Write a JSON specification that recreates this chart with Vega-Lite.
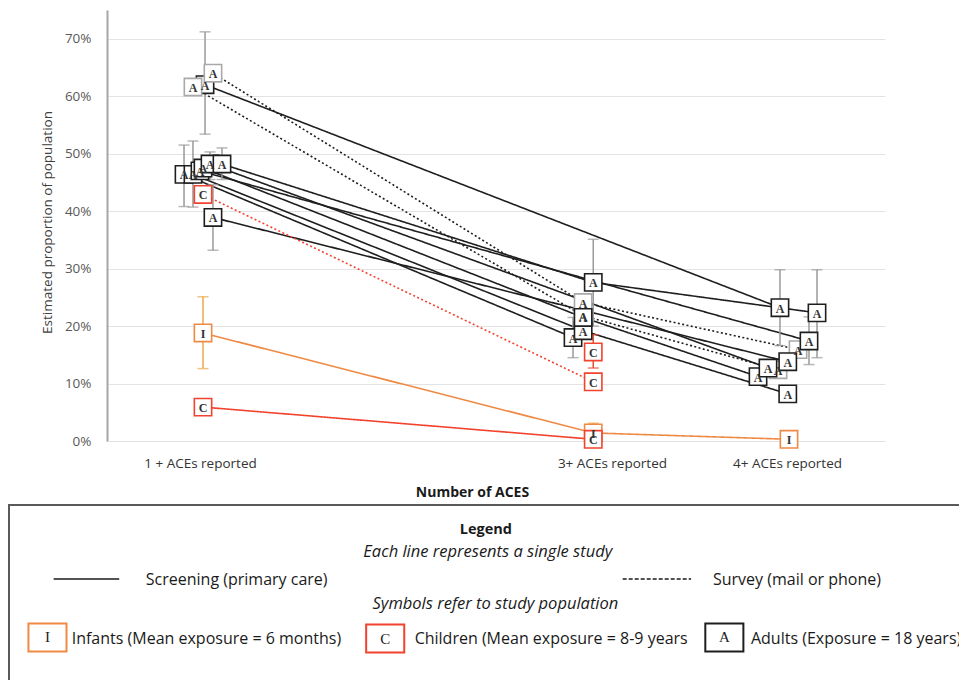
{
  "$schema": "https://vega.github.io/schema/vega-lite/v6.json",
  "width": 778,
  "height": 431,
  "autosize": {"type": "none"},
  "padding": {"left": 107, "top": 10, "right": 74, "bottom": 239},
  "background": "white",
  "config": {"view": {"stroke": null}, "font": "Open Sans"},
  "datasets": {
    "pts": [
      {"study": "s14", "pop": "Infants", "method": "Screening", "sym": "I", "aces": "1+", "pos": 12.34, "v": 0.188},
      {"study": "s14", "pop": "Infants", "method": "Screening", "sym": "I", "aces": "3+", "pos": 62.5, "v": 0.014},
      {"study": "s14", "pop": "Infants", "method": "Screening", "sym": "I", "aces": "4+", "pos": 87.66, "v": 0.003},
      {"study": "s1", "pop": "Adults", "method": "Screening", "sym": "A", "aces": "1+", "pos": 12.6, "v": 0.62},
      {"study": "s1", "pop": "Adults", "method": "Screening", "sym": "A", "aces": "4+", "pos": 86.5, "v": 0.232},
      {"study": "s3", "pop": "Adults", "method": "Survey", "sym": "A", "aces": "1+", "pos": 11.05, "v": 0.616},
      {"study": "s3", "pop": "Adults", "method": "Survey", "sym": "A", "aces": "3+", "pos": 61.2, "v": 0.218},
      {"study": "s3", "pop": "Adults", "method": "Survey", "sym": "A", "aces": "4+", "pos": 86.25, "v": 0.124},
      {"study": "s2", "pop": "Adults", "method": "Survey", "sym": "A", "aces": "1+", "pos": 13.62, "v": 0.64},
      {"study": "s2", "pop": "Adults", "method": "Survey", "sym": "A", "aces": "3+", "pos": 61.2, "v": 0.241},
      {"study": "s2", "pop": "Adults", "method": "Survey", "sym": "A", "aces": "4+", "pos": 88.82, "v": 0.159},
      {"study": "s4", "pop": "Adults", "method": "Screening", "sym": "A", "aces": "1+", "pos": 9.9, "v": 0.464},
      {"study": "s4", "pop": "Adults", "method": "Screening", "sym": "A", "aces": "3+", "pos": 59.9, "v": 0.18},
      {"study": "s5", "pop": "Adults", "method": "Screening", "sym": "A", "aces": "1+", "pos": 11.05, "v": 0.464},
      {"study": "s5", "pop": "Adults", "method": "Screening", "sym": "A", "aces": "3+", "pos": 61.2, "v": 0.192},
      {"study": "s5", "pop": "Adults", "method": "Screening", "sym": "A", "aces": "4+", "pos": 87.5, "v": 0.082},
      {"study": "s8", "pop": "Adults", "method": "Screening", "sym": "A", "aces": "1+", "pos": 11.95, "v": 0.47},
      {"study": "s8", "pop": "Adults", "method": "Screening", "sym": "A", "aces": "4+", "pos": 90.23, "v": 0.174},
      {"study": "s10", "pop": "Adults", "method": "Screening", "sym": "A", "aces": "1+", "pos": 12.34, "v": 0.475},
      {"study": "s10", "pop": "Adults", "method": "Screening", "sym": "A", "aces": "3+", "pos": 61.2, "v": 0.215},
      {"study": "s10", "pop": "Adults", "method": "Screening", "sym": "A", "aces": "4+", "pos": 83.68, "v": 0.112},
      {"study": "s6", "pop": "Adults", "method": "Screening", "sym": "A", "aces": "1+", "pos": 13.24, "v": 0.482},
      {"study": "s6", "pop": "Adults", "method": "Screening", "sym": "A", "aces": "4+", "pos": 84.96, "v": 0.127},
      {"study": "s7", "pop": "Adults", "method": "Screening", "sym": "A", "aces": "1+", "pos": 14.78, "v": 0.482},
      {"study": "s7", "pop": "Adults", "method": "Screening", "sym": "A", "aces": "3+", "pos": 62.5, "v": 0.276},
      {"study": "s7", "pop": "Adults", "method": "Screening", "sym": "A", "aces": "4+", "pos": 91.26, "v": 0.223},
      {"study": "s9", "pop": "Adults", "method": "Screening", "sym": "A", "aces": "1+", "pos": 13.62, "v": 0.389},
      {"study": "s9", "pop": "Adults", "method": "Screening", "sym": "A", "aces": "4+", "pos": 87.5, "v": 0.138},
      {"study": "s11", "pop": "Children", "method": "Survey", "sym": "C", "aces": "1+", "pos": 12.34, "v": 0.429},
      {"study": "s11", "pop": "Children", "method": "Survey", "sym": "C", "aces": "3+", "pos": 62.5, "v": 0.103},
      {"study": "s12", "pop": "Children", "method": "Screening", "sym": "C", "aces": "3+", "pos": 62.5, "v": 0.155},
      {"study": "s13", "pop": "Children", "method": "Screening", "sym": "C", "aces": "1+", "pos": 12.34, "v": 0.059},
      {"study": "s13", "pop": "Children", "method": "Screening", "sym": "C", "aces": "3+", "pos": 62.5, "v": 0.003}
    ],
    "errs": [
      {"pop": "Adults", "pos": 12.6, "lo": 0.534, "hi": 0.712},
      {"pop": "Adults", "pos": 9.9, "lo": 0.408, "hi": 0.515},
      {"pop": "Adults", "pos": 11.05, "lo": 0.407, "hi": 0.522},
      {"pop": "Adults", "pos": 13.24, "lo": 0.455, "hi": 0.503},
      {"pop": "Adults", "pos": 14.78, "lo": 0.455, "hi": 0.51},
      {"pop": "Adults", "pos": 13.62, "lo": 0.332, "hi": 0.446},
      {"pop": "Adults", "pos": 62.5, "lo": 0.2, "hi": 0.351},
      {"pop": "Adults", "pos": 59.9, "lo": 0.145, "hi": 0.215},
      {"pop": "Adults", "pos": 86.5, "lo": 0.166, "hi": 0.298},
      {"pop": "Adults", "pos": 91.26, "lo": 0.145, "hi": 0.298},
      {"pop": "Adults", "pos": 90.23, "lo": 0.133, "hi": 0.216},
      {"pop": "Children", "pos": 62.5, "lo": 0.127, "hi": 0.185},
      {"pop": "Infants", "pos": 12.34, "lo": 0.126, "hi": 0.251},
      {"pop": "Infants", "pos": 62.5, "lo": 0.0, "hi": 0.031}
    ],
    "lgBox": [{"lx": 0, "lx2": 110, "ly": 0, "ly2": 110}],
    "lgText": [
      {"kind": "title", "text": "Legend", "lx": 50.2, "ly": 14.3},
      {"kind": "note", "text": "Each line represents a single study", "lx": 50.4, "ly": 26.9},
      {"kind": "note", "text": "Symbols refer to study population", "lx": 51.2, "ly": 56.6},
      {"kind": "label", "text": "Screening (primary care)", "lx": 14.4, "ly": 42.9},
      {"kind": "label", "text": "Survey (mail or phone)", "lx": 74.1, "ly": 42.9},
      {"kind": "label", "text": "Infants (Mean exposure = 6 months)", "lx": 6.6, "ly": 76.6},
      {"kind": "label", "text": "Children (Mean exposure = 8-9 years", "lx": 42.7, "ly": 76.6},
      {"kind": "label", "text": "Adults (Exposure = 18 years)", "lx": 78.1, "ly": 76.6}
    ],
    "lgLines": [
      {"method": "Screening", "lx": 4.7, "lx2": 11.6, "ly": 42.3},
      {"method": "Survey", "lx": 64.6, "lx2": 71.8, "ly": 42.3}
    ],
    "lgSyms": [
      {"pop": "Infants", "sym": "I", "lx": 4.05, "ly": 75.7},
      {"pop": "Children", "sym": "C", "lx": 39.6, "ly": 76.3},
      {"pop": "Adults", "sym": "A", "lx": 75.3, "ly": 75.7}
    ]
  },
  "layer": [
    {
      "layer": [
        {
          "data": {"name": "pts"},
          "mark": {"type": "line", "strokeWidth": 1.6},
          "encoding": {
            "x": {
              "field": "pos", "type": "quantitative", "title": "Number of ACES",
              "scale": {"domain": [0, 100], "nice": false, "zero": false},
              "axis": {
                "values": [11.95, 64.9, 87.4],
                "labelExpr": "datum.value < 30 ? '1 + ACEs reported' : (datum.value < 75 ? '3+ ACEs reported' : '4+ ACEs reported')",
                "grid": false, "domain": false, "ticks": false, "tickSize": 0,
                "labelPadding": 15, "labelFontSize": 13.5, "labelColor": "#333333", "labelFont": "Open Sans",
                "labelFlush": false, "labelOverlap": false,
                "titleFont": "Open Sans", "titleFontSize": 14, "titleFontWeight": "bold", "titleColor": "#1a1a1a",
                "titleX": 365, "titleY": 55, "titleAlign": "center", "titleBaseline": "alphabetic"
              }
            },
            "y": {
              "field": "v", "type": "quantitative", "title": "Estimated proportion of population",
              "scale": {"domain": [0, 0.75], "nice": false, "zero": false},
              "axis": {
                "values": [0, 0.1, 0.2, 0.3, 0.4, 0.5, 0.6, 0.7],
                "format": ".0%",
                "grid": true, "gridColor": "#e3e3e3", "gridWidth": 1,
                "domainColor": "#a6a6a6", "domainWidth": 2,
                "ticks": false, "tickSize": 0,
                "labelPadding": 16, "labelFontSize": 13.5, "labelColor": "#595959", "labelFont": "Open Sans",
                "titleFont": "Open Sans", "titleFontSize": 13.5, "titleFontWeight": "normal", "titleColor": "#404040",
                "titleX": -53, "titleY": 212, "titleAlign": "center", "titleBaseline": "bottom", "titleAngle": -90
              }
            },
            "detail": {"field": "study"},
            "stroke": {"field": "pop", "type": "nominal", "scale": {"domain": ["Adults", "Children", "Infants"], "range": ["#1e1e1e", "#f2432f", "#ef8a45"]}, "legend": null},
            "strokeDash": {"field": "method", "type": "nominal", "scale": {"domain": ["Screening", "Survey"], "range": [[1, 0], [2, 2.4]]}, "legend": null}
          }
        },
        {
          "data": {"name": "errs"},
          "mark": {"type": "rule", "strokeWidth": 1.5},
          "encoding": {
            "x": {"field": "pos", "type": "quantitative", "title": "Number of ACES"},
            "y": {"field": "lo", "type": "quantitative", "title": "Estimated proportion of population"},
            "y2": {"field": "hi"},
            "color": {"field": "pop", "type": "nominal", "scale": {"domain": ["Adults", "Children", "Infants"], "range": ["#9a9a9a", "#ef4a38", "#e9a94a"]}, "legend": null}
          }
        },
        {
          "data": {"name": "errs"},
          "mark": {"type": "tick", "orient": "horizontal", "size": 11, "thickness": 1.5},
          "encoding": {
            "x": {"field": "pos", "type": "quantitative", "title": "Number of ACES"},
            "y": {"field": "lo", "type": "quantitative", "title": "Estimated proportion of population"},
            "color": {"field": "pop", "type": "nominal", "scale": {"domain": ["Adults", "Children", "Infants"], "range": ["#9a9a9a", "#ef4a38", "#e9a94a"]}, "legend": null}
          }
        },
        {
          "data": {"name": "errs"},
          "mark": {"type": "tick", "orient": "horizontal", "size": 11, "thickness": 1.5},
          "encoding": {
            "x": {"field": "pos", "type": "quantitative", "title": "Number of ACES"},
            "y": {"field": "hi", "type": "quantitative", "title": "Estimated proportion of population"},
            "color": {"field": "pop", "type": "nominal", "scale": {"domain": ["Adults", "Children", "Infants"], "range": ["#9a9a9a", "#ef4a38", "#e9a94a"]}, "legend": null}
          }
        },
        {
          "data": {"name": "pts"},
          "mark": {"type": "point", "shape": "square", "size": 300, "filled": false, "fill": "white", "fillOpacity": 1, "strokeWidth": 1.6, "opacity": 1},
          "encoding": {
            "x": {"field": "pos", "type": "quantitative", "title": "Number of ACES"},
            "y": {"field": "v", "type": "quantitative", "title": "Estimated proportion of population"},
            "stroke": {
              "condition": {"test": "datum.pop === 'Adults' && datum.method === 'Survey'", "value": "#a9a9a9"},
              "field": "pop", "type": "nominal",
              "scale": {"domain": ["Adults", "Children", "Infants"], "range": ["#1e1e1e", "#f2432f", "#ef8a45"]},
              "legend": null
            }
          }
        },
        {
          "data": {"name": "pts"},
          "mark": {"type": "text", "font": "Liberation Serif", "fontWeight": "bold", "fontSize": 12, "color": "#333333", "baseline": "middle", "align": "center", "dy": 1},
          "encoding": {
            "x": {"field": "pos", "type": "quantitative", "title": "Number of ACES"},
            "y": {"field": "v", "type": "quantitative", "title": "Estimated proportion of population"},
            "text": {"field": "sym"}
          }
        }
      ]
    },
    {
      "layer": [
        {
          "data": {"name": "lgBox"},
          "mark": {"type": "rect", "fill": "white", "stroke": "#5a5a5a", "strokeWidth": 2},
          "encoding": {
            "x": {"field": "lx", "type": "quantitative", "scale": {"domain": [0, 100], "range": [-98, 852], "nice": false, "zero": false}, "axis": null},
            "x2": {"field": "lx2"},
            "y": {"field": "ly", "type": "quantitative", "scale": {"domain": [0, 100], "range": [495, 670], "nice": false, "zero": false}, "axis": null},
            "y2": {"field": "ly2"}
          }
        },
        {
          "data": {"name": "lgText"},
          "transform": [{"filter": "datum.kind === 'title'"}],
          "mark": {"type": "text", "fontWeight": "bold", "fontSize": 14.5, "align": "center", "baseline": "middle", "color": "#1a1a1a", "font": "Open Sans"},
          "encoding": {
            "x": {"field": "lx", "type": "quantitative", "axis": null},
            "y": {"field": "ly", "type": "quantitative", "axis": null},
            "text": {"field": "text"}
          }
        },
        {
          "data": {"name": "lgText"},
          "transform": [{"filter": "datum.kind === 'note'"}],
          "mark": {"type": "text", "fontStyle": "italic", "fontSize": 16.5, "align": "center", "baseline": "middle", "color": "#1a1a1a", "font": "Open Sans"},
          "encoding": {
            "x": {"field": "lx", "type": "quantitative", "axis": null},
            "y": {"field": "ly", "type": "quantitative", "axis": null},
            "text": {"field": "text"}
          }
        },
        {
          "data": {"name": "lgText"},
          "transform": [{"filter": "datum.kind === 'label'"}],
          "mark": {"type": "text", "fontSize": 16, "align": "left", "baseline": "middle", "color": "#1a1a1a", "font": "Open Sans"},
          "encoding": {
            "x": {"field": "lx", "type": "quantitative", "axis": null},
            "y": {"field": "ly", "type": "quantitative", "axis": null},
            "text": {"field": "text"}
          }
        },
        {
          "data": {"name": "lgLines"},
          "mark": {"type": "rule", "strokeWidth": 1.5, "color": "#1a1a1a"},
          "encoding": {
            "x": {"field": "lx", "type": "quantitative", "axis": null},
            "x2": {"field": "lx2"},
            "y": {"field": "ly", "type": "quantitative", "axis": null},
            "strokeDash": {"field": "method", "type": "nominal", "scale": {"domain": ["Screening", "Survey"], "range": [[1, 0], [4, 2]]}, "legend": null}
          }
        },
        {
          "data": {"name": "lgSyms"},
          "mark": {"type": "point", "shape": "M-1,-0.74H1V0.74H-1Z", "size": 1450, "filled": false, "fill": "white", "fillOpacity": 1, "strokeWidth": 2, "opacity": 1},
          "encoding": {
            "x": {"field": "lx", "type": "quantitative", "axis": null},
            "y": {"field": "ly", "type": "quantitative", "axis": null},
            "stroke": {"field": "pop", "type": "nominal", "scale": {"domain": ["Adults", "Children", "Infants"], "range": ["#1e1e1e", "#f2432f", "#ef8a45"]}, "legend": null}
          }
        },
        {
          "data": {"name": "lgSyms"},
          "mark": {"type": "text", "font": "Liberation Serif", "fontSize": 15, "align": "center", "baseline": "middle", "color": "#222222"},
          "encoding": {
            "x": {"field": "lx", "type": "quantitative", "axis": null},
            "y": {"field": "ly", "type": "quantitative", "axis": null},
            "text": {"field": "sym"}
          }
        }
      ]
    }
  ],
  "resolve": {"scale": {"x": "independent", "y": "independent", "strokeDash": "independent"}}
}
